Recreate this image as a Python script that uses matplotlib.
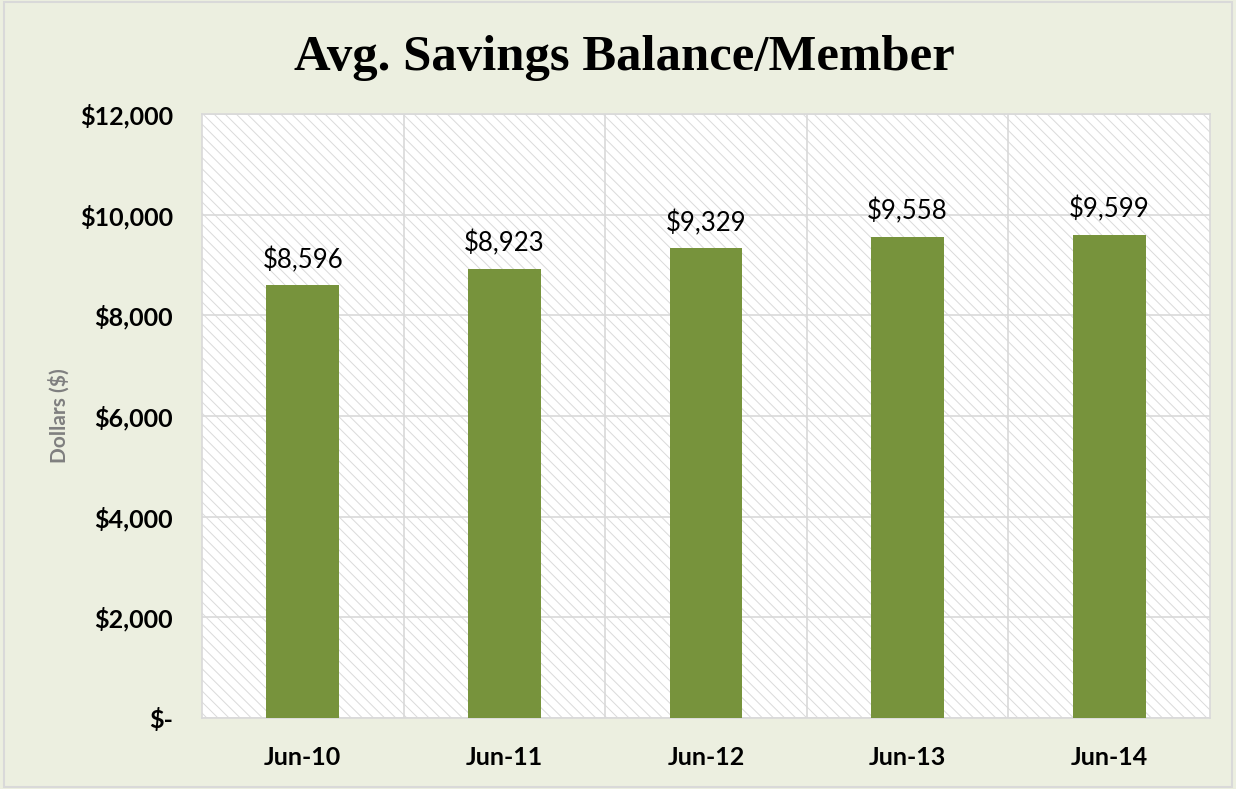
import matplotlib
matplotlib.use("Agg")
import matplotlib.pyplot as plt
from matplotlib.patches import Rectangle
from matplotlib.ticker import FuncFormatter

categories = ["Jun-10", "Jun-11", "Jun-12", "Jun-13", "Jun-14"]
values = [8596, 8923, 9329, 9558, 9599]
yticks = [0, 2000, 4000, 6000, 8000, 10000, 12000]

BG = "#ECEFE0"
BAR = "#77933C"
GRID = "#D9D9D9"
SANS = ["Lato", "DejaVu Sans"]

plt.rcParams["hatch.linewidth"] = 0.7

fig = plt.figure(figsize=(12.36, 7.89), dpi=100, facecolor=BG)
fig.patches.append(Rectangle((0.003, 0.003), 0.994, 0.994, transform=fig.transFigure,
                             facecolor="none", edgecolor=GRID, linewidth=1.5))
ax = fig.add_axes([0.1634, 0.090, 0.8156, 0.7655])
ax.patch.set_facecolor("white")
ax.patch.set_hatch("\\\\\\")
ax.patch.set_edgecolor("#DADADA")

x = list(range(len(categories)))
ax.bar(x, values, width=0.36, color=BAR, zorder=3)
for xi, v in zip(x, values):
    ax.annotate(f"${v:,}", (xi, v), xytext=(0, 9), textcoords="offset points",
                ha="center", va="bottom", fontsize=18.5, family=SANS, color="#000000", zorder=4)

ax.set_xlim(-0.5, len(categories) - 0.5)
ax.set_ylim(0, 12000)
ax.set_yticks(yticks)
ax.yaxis.set_major_formatter(FuncFormatter(lambda v, p: "$-" if v == 0 else f"${int(v):,}"))
ax.set_xticks(x)
ax.set_xticklabels(categories)
ax.set_xticks([i + 0.5 for i in x[:-1]], minor=True)
ax.grid(axis="y", which="major", color=GRID, linewidth=1.2, zorder=1)
ax.grid(axis="x", which="minor", color=GRID, linewidth=1.2, zorder=1)
ax.grid(axis="x", which="major", visible=False)
ax.set_axisbelow(True)
ax.tick_params(which="both", length=0)
ax.tick_params(axis="y", pad=21)
ax.tick_params(axis="x", pad=20)
for lab in ax.get_yticklabels() + ax.get_xticklabels():
    lab.set_fontfamily(SANS)
    lab.set_fontweight("bold")
    lab.set_fontsize(18)
for s in ax.spines.values():
    s.set_color(GRID)
    s.set_linewidth(1.2)

ax.set_ylabel("Dollars ($)", fontsize=15, fontweight="bold", color="#7F7F7F", family=SANS)
ax.yaxis.set_label_coords(-0.131, 0.5)

fig.text(0.505, 0.926, "Avg. Savings Balance/Member", ha="center", va="center",
         fontsize=36.5, fontweight="bold", family=["Liberation Serif", "DejaVu Serif"])

fig.savefig("out.png", dpi=100, facecolor=BG)
